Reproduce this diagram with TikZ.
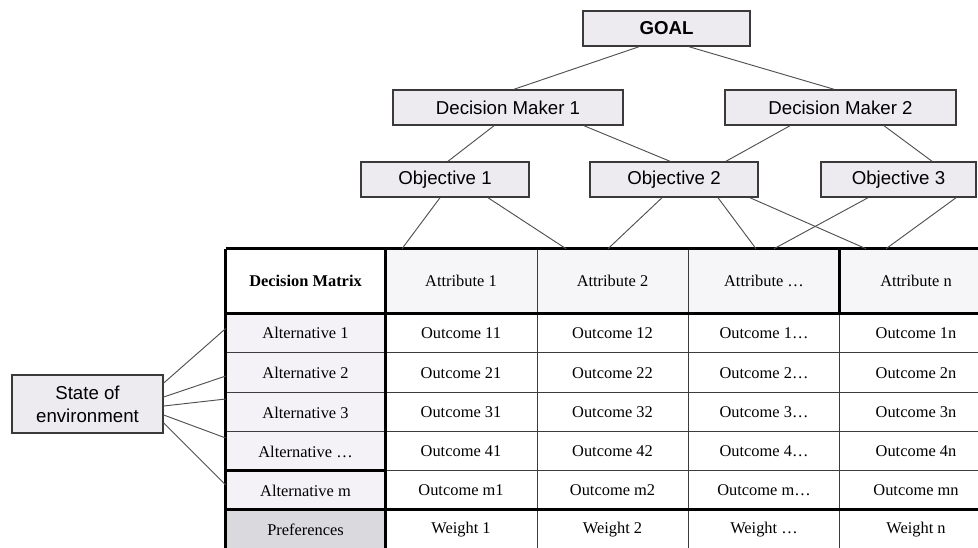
\documentclass[tikz,border=0pt]{standalone}
\usepackage{fontspec}
\setmainfont{Liberation Serif}
\setsansfont{Liberation Sans}
\usetikzlibrary{calc}
\definecolor{boxfill}{HTML}{EDEAF0}
\definecolor{boxline}{HTML}{3A3A3A}
\definecolor{connc}{HTML}{505050}
\definecolor{hdrfill}{HTML}{F6F5F8}
\definecolor{altfill}{HTML}{F4F2F6}
\definecolor{preffill}{HTML}{DAD9DD}
\definecolor{thinc}{HTML}{3C3C3C}
\newcommand\mycell[7]{\node[tcell,fill=#6,minimum width={(#4-#2)*0.75pt},minimum height={(#5-#3)*0.75pt}] (#1) at ({(#2+#4)/2},{(#3+#5)/2}) {#7};}
\begin{document}
\begin{tikzpicture}[x=0.75pt,y=-0.75pt,
  topbox/.style={draw=boxline, line width=1.1pt, fill=boxfill, inner sep=0pt,
    minimum height=26.25pt, font=\sffamily\fontsize{14}{17}\selectfont},
  conn/.style={draw=connc, line width=0.7pt},
  tcell/.style={inner sep=0pt, font=\fontsize{12.3}{14}\selectfont},
  gridthin/.style={draw=thinc, line width=0.8pt},
  gridthick/.style={draw=black, line width=1.9pt}]
\useasboundingbox (0,0) rectangle (978,547);
% hierarchy
\node[topbox, minimum width=125.25pt] (goal) at (666.5,28.5) {\bfseries GOAL};
\node[topbox, minimum width=172.5pt] (dm1) at (508,107.5) {Decision Maker 1};
\node[topbox, minimum width=173.25pt] (dm2) at (840.5,107.5) {Decision Maker 2};
\node[topbox, minimum width=126pt] (ob1) at (445,179.5) {Objective 1};
\node[topbox, minimum width=126pt] (ob2) at (674,179.5) {Objective 2};
\node[topbox, minimum width=116.25pt] (ob3) at (898.5,179.5) {Objective 3};
\node[topbox, minimum width=113.25pt, minimum height=43.5pt, align=center] (state) at (87.5,404) {State of\\environment};
% table
\begin{scope}
\clip (0,0) rectangle (978,547);
\mycell{dm}{226}{249}{385}{313}{white}{\bfseries Decision Matrix}
\mycell{a1}{385}{249}{537}{313}{hdrfill}{Attribute 1}
\mycell{a2}{537}{249}{688}{313}{hdrfill}{Attribute 2}
\mycell{a3}{688}{249}{840}{313}{hdrfill}{Attribute …}
\mycell{a4}{840}{249}{992}{313}{hdrfill}{Attribute n}
\mycell{alt1}{226}{313}{385}{353}{altfill}{Alternative 1}
\mycell{o11}{385}{313}{537}{353}{white}{Outcome 11}
\mycell{o12}{537}{313}{688}{353}{white}{Outcome 12}
\mycell{o13}{688}{313}{840}{353}{white}{Outcome 1…}
\mycell{o14}{840}{313}{992}{353}{white}{Outcome 1n}
\mycell{alt2}{226}{353}{385}{393}{altfill}{Alternative 2}
\mycell{o21}{385}{353}{537}{393}{white}{Outcome 21}
\mycell{o22}{537}{353}{688}{393}{white}{Outcome 22}
\mycell{o23}{688}{353}{840}{393}{white}{Outcome 2…}
\mycell{o24}{840}{353}{992}{393}{white}{Outcome 2n}
\mycell{alt3}{226}{393}{385}{432}{altfill}{Alternative 3}
\mycell{o31}{385}{393}{537}{432}{white}{Outcome 31}
\mycell{o32}{537}{393}{688}{432}{white}{Outcome 32}
\mycell{o33}{688}{393}{840}{432}{white}{Outcome 3…}
\mycell{o34}{840}{393}{992}{432}{white}{Outcome 3n}
\mycell{alt4}{226}{432}{385}{471}{altfill}{Alternative …}
\mycell{o41}{385}{432}{537}{471}{white}{Outcome 41}
\mycell{o42}{537}{432}{688}{471}{white}{Outcome 42}
\mycell{o43}{688}{432}{840}{471}{white}{Outcome 4…}
\mycell{o44}{840}{432}{992}{471}{white}{Outcome 4n}
\mycell{alt5}{226}{471}{385}{510}{altfill}{Alternative m}
\mycell{o51}{385}{471}{537}{510}{white}{Outcome m1}
\mycell{o52}{537}{471}{688}{510}{white}{Outcome m2}
\mycell{o53}{688}{471}{840}{510}{white}{Outcome m…}
\mycell{o54}{840}{471}{992}{510}{white}{Outcome mn}
\mycell{pref}{226}{510}{385}{549}{preffill}{Preferences}
\mycell{w1}{385}{510}{537}{549}{white}{Weight 1}
\mycell{w2}{537}{510}{688}{549}{white}{Weight 2}
\mycell{w3}{688}{510}{840}{549}{white}{Weight …}
\mycell{w4}{840}{510}{992}{549}{white}{Weight n}
% thin grid
\draw[gridthin] (a1.north east) -- (w1.south east);
\draw[gridthin] (a2.north east) -- (w2.south east);
\draw[gridthin] (o14.north west) -- (w4.south west);
\draw[gridthin] (alt2.north west) -- (o24.north east);
\draw[gridthin] (alt3.north west) -- (o34.north east);
\draw[gridthin] (alt4.north west) -- (o44.north east);
\draw[gridthin, line width=1.1pt] (o51.north west) -- (o54.north east);
% thick grid
\draw[gridthick] (dm.north west) -- (a4.north east);
\draw[gridthick] (dm.north west) -- (pref.south west);
\draw[gridthick] (dm.north east) -- (pref.south east);
\draw[gridthick] (a4.north west) -- (a4.south west);
\draw[gridthick] (dm.south west) -- (a4.south east);
\draw[gridthick] (alt5.north west) -- (alt5.north east);
\draw[gridthick] (pref.north west) -- (w4.north east);
\end{scope}
% connectors
\draw[conn] ($(goal.south)+(-27.5,0)$) -- ($(dm1.north)+(6,0)$);
\draw[conn] ($(goal.south)+(22.5,0)$) -- ($(dm2.north)+(-6.5,0)$);
\draw[conn] ($(dm1.south)+(-14,0)$) -- ($(ob1.north)+(3,0)$);
\draw[conn] ($(dm1.south)+(76,0)$) -- ($(ob2.north)+(-4,0)$);
\draw[conn] ($(dm2.south)+(-50.5,0)$) -- ($(ob2.north)+(52,0)$);
\draw[conn] ($(dm2.south)+(43.5,0)$) -- ($(ob3.north)+(33.5,0)$);
\draw[conn] ($(ob1.south)+(-5,0)$) -- ($(a1.north)+(-59,0)$);
\draw[conn] ($(ob1.south)+(43,0)$) -- ($(a2.north)+(-46.5,0)$);
\draw[conn] ($(ob2.south)+(-12,0)$) -- ($(a2.north)+(-4.5,0)$);
\draw[conn] ($(ob2.south)+(44,0)$) -- ($(a3.north)+(-8,0)$);
\draw[conn] ($(ob2.south)+(76,0)$) -- ($(a4.north)+(-50,0)$);
\draw[conn] ($(ob3.south)+(-30.5,0)$) -- ($(a3.north)+(10,0)$);
\draw[conn] ($(ob3.south)+(57.5,0)$) -- ($(a4.north)+(-30,0)$);
\draw[conn] ($(state.east)+(0,-21)$) -- ($(alt1.west)+(0,-4.5)$);
\draw[conn] ($(state.east)+(0,-7)$) -- ($(alt2.west)+(0,3)$);
\draw[conn] ($(state.east)+(0,2)$) -- ($(alt3.west)+(0,-13.5)$);
\draw[conn] ($(state.east)+(0,11)$) -- ($(alt4.west)+(0,-13.5)$);
\draw[conn] ($(state.east)+(0,19)$) -- ($(alt5.west)+(0,-5.5)$);
\end{tikzpicture}
\end{document}
